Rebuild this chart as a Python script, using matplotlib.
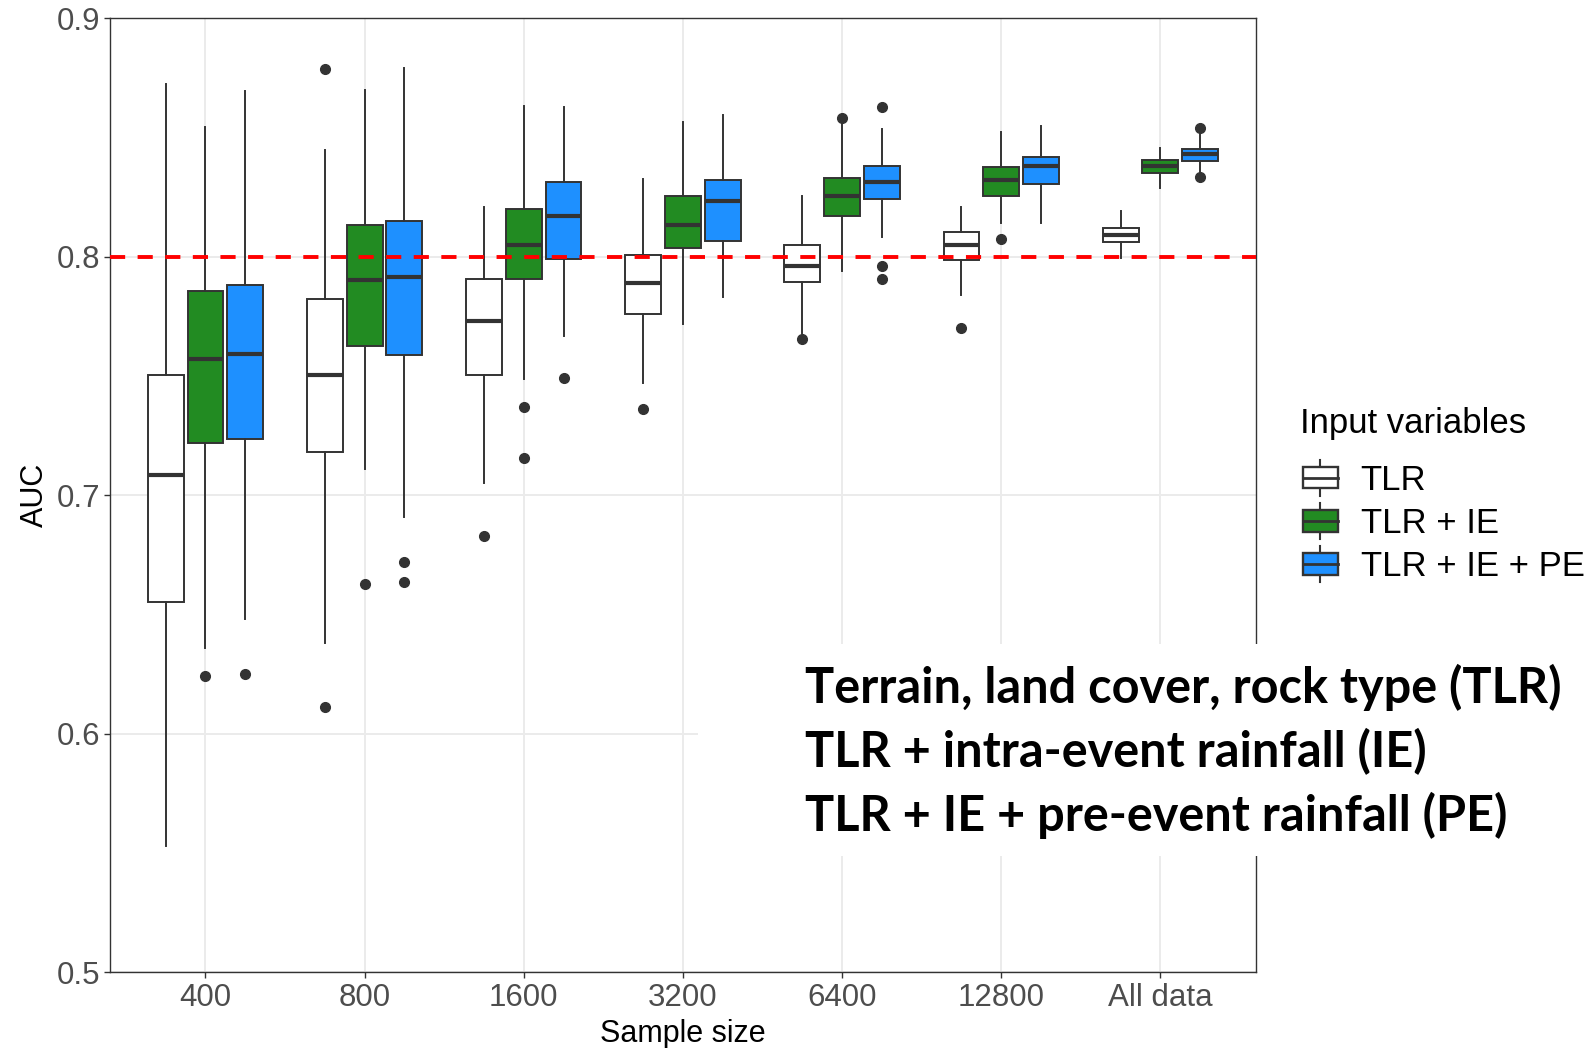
import matplotlib
matplotlib.use("Agg")
import matplotlib.pyplot as plt
from matplotlib.patches import Rectangle
from matplotlib.lines import Line2D
from matplotlib.legend_handler import HandlerBase

plt.rcParams["font.family"] = ["Liberation Sans", "DejaVu Sans"]

# ---- data ----
sample_sizes = ["400", "800", "1600", "3200", "6400", "12800", "All data"]
groups = ["TLR", "TLR + IE", "TLR + IE + PE"]
colors = ["white", "#228B22", "#1E90FF"]

# whisker low, Q1, median, Q3, whisker high (one row per sample size)
tlr_stats = [
    [0.553, 0.655, 0.7085, 0.7502, 0.8723],
    [0.638, 0.718, 0.7503, 0.7821, 0.8449],
    [0.7049, 0.7502, 0.773, 0.7906, 0.821],
    [0.7471, 0.7762, 0.7892, 0.8006, 0.8327],
    [0.7681, 0.7895, 0.7961, 0.805, 0.8256],
    [0.7841, 0.7987, 0.805, 0.8105, 0.8208],
    [0.7996, 0.8064, 0.8091, 0.8119, 0.8194],
]
tlr_out = [[], [0.8787, 0.611], [0.683], [0.736], [0.7653], [0.7701], []]

ie_stats = [
    [0.636, 0.7217, 0.7572, 0.7855, 0.8544],
    [0.7108, 0.7625, 0.7902, 0.8133, 0.870],
    [0.7488, 0.7908, 0.8049, 0.820, 0.8634],
    [0.7719, 0.8035, 0.8134, 0.8255, 0.8565],
    [0.794, 0.8173, 0.8255, 0.8331, 0.8565],
    [0.8143, 0.8255, 0.832, 0.8375, 0.8524],
    [0.8287, 0.8351, 0.838, 0.8405, 0.8455],
]
ie_out = [[0.624], [0.6627], [0.737, 0.7158], [], [0.8583], [0.8073], []]

pe_stats = [
    [0.648, 0.7234, 0.7593, 0.788, 0.8694],
    [0.691, 0.7586, 0.7916, 0.8151, 0.8792],
    [0.7667, 0.7989, 0.8173, 0.8315, 0.8627],
    [0.7831, 0.8067, 0.8235, 0.8322, 0.8596],
    [0.8084, 0.8241, 0.8313, 0.8382, 0.8534],
    [0.814, 0.8306, 0.838, 0.842, 0.855],
    [0.835, 0.8403, 0.843, 0.8453, 0.8525],
]
pe_out = [[0.625], [0.672, 0.6635], [0.7492], [], [0.8629, 0.7961, 0.7905], [], [0.854, 0.8333]]

threshold = 0.8
note_lines = [
    "Terrain, land cover, rock type (TLR)",
    "TLR + intra-event rainfall (IE)",
    "TLR + IE + pre-event rainfall (PE)",
]

edge = "#333333"

fig = plt.figure(figsize=(15.96, 10.48), dpi=100)
ax = fig.add_axes([0.0689, 0.0725, 0.7180, 0.9100])

all_stats = [tlr_stats, ie_stats, pe_stats]
all_out = [tlr_out, ie_out, pe_out]
offsets = [-0.25, 0.0, 0.25]

for g in range(3):
    bxp_stats = []
    for i, s in enumerate(all_stats[g]):
        bxp_stats.append({"whislo": s[0], "q1": s[1], "med": s[2], "q3": s[3],
                          "whishi": s[4], "fliers": all_out[g][i]})
    pos = [i + offsets[g] for i in range(len(sample_sizes))]
    ax.bxp(bxp_stats, positions=pos, widths=0.225, patch_artist=True,
           showcaps=False, manage_ticks=False,
           boxprops=dict(facecolor=colors[g], edgecolor=edge, linewidth=1.4),
           whiskerprops=dict(color=edge, linewidth=1.4),
           medianprops=dict(color=edge, linewidth=3.0, solid_capstyle="butt"),
           flierprops=dict(marker="o", markerfacecolor=edge, markeredgecolor=edge,
                           markersize=7),
           zorder=3)

ax.axhline(threshold, color="red", linewidth=2.8, dashes=(3.9, 3.2), zorder=4)

ax.set_xlim(-0.6, len(sample_sizes) - 0.4)
ax.set_ylim(0.5, 0.9)
ax.set_xticks(range(len(sample_sizes)))
ax.set_xticklabels(sample_sizes)
ax.set_yticks([0.5, 0.6, 0.7, 0.8, 0.9])
ax.set_yticklabels(["0.5", "0.6", "0.7", "0.8", "0.9"])
ax.grid(True, color="#EBEBEB", linewidth=1.4, zorder=0)
ax.set_axisbelow(True)
for sp in ax.spines.values():
    sp.set_color(edge)
    sp.set_linewidth(1.0)
ax.tick_params(colors=edge, labelcolor="#4D4D4D", labelsize=22.5, length=4, width=1.0, pad=4)
ax.tick_params(axis="y", pad=3)
ax.set_xlabel("Sample size", fontsize=22, labelpad=4)
ax.set_ylabel("AUC", fontsize=22, labelpad=5)


class BoxKey(HandlerBase):
    def create_artists(self, legend, orig_handle, xdescent, ydescent, width, height,
                       fontsize, trans):
        x0, y0 = -xdescent, -ydescent
        bh = height * 0.6
        by = y0 + (height - bh) / 2
        cx = x0 + width / 2
        box = Rectangle((x0, by), width, bh, facecolor=orig_handle.get_facecolor(),
                        edgecolor=edge, linewidth=1.7, transform=trans)
        med = Line2D([x0, x0 + width], [by + bh / 2] * 2, color=edge, linewidth=2.0,
                     transform=trans)
        w1 = Line2D([cx, cx], [y0, by], color=edge, linewidth=1.5, transform=trans)
        w2 = Line2D([cx, cx], [by + bh, y0 + height], color=edge, linewidth=1.5,
                    transform=trans)
        return [w1, w2, box, med]


fig.text(1300 / 1596, 1 - 433 / 1048, "Input variables", fontsize=25, va="baseline",
         ha="left")
handles = [Rectangle((0, 0), 1, 1, facecolor=c) for c in colors]
leg = fig.legend(handles, groups, loc="upper left",
                 bbox_to_anchor=(1303 / 1596, 1 - 460 / 1048), frameon=False,
                 fontsize=25, handlelength=1.0, handleheight=1.2,
                 handletextpad=0.66, labelspacing=0.19, borderaxespad=0, borderpad=0,
                 handler_map={Rectangle: BoxKey()})

# white box with the annotation text sitting over part of the panel
fig.add_artist(Rectangle((698 / 1596, 1 - 856 / 1048), 1 - 698 / 1596, (856 - 644) / 1048,
                         transform=fig.transFigure, facecolor="white", edgecolor="none",
                         zorder=5))
for k, line in enumerate(note_lines):
    fig.text(805 / 1596, 1 - (703 + 64 * k) / 1048, line, fontsize=35, fontweight="bold",
             family=["Lato", "DejaVu Sans"], va="baseline", ha="left", zorder=6)

fig.savefig("out.png", dpi=100)
